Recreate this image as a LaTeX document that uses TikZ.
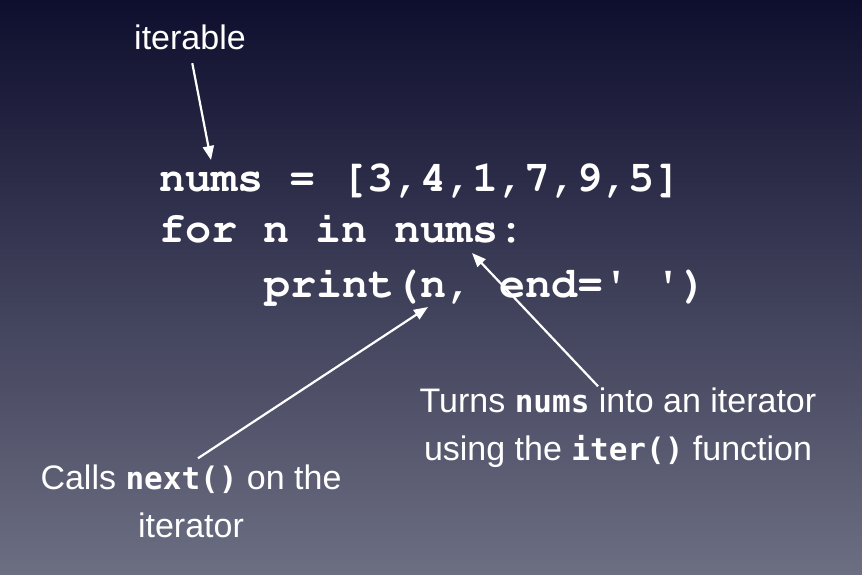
\documentclass[tikz,border=0pt]{standalone}
\usepackage[T1]{fontenc}
\usepackage{fontspec}
\setmainfont{Liberation Sans}
\newfontfamily\inlinefont{DejaVu Sans Mono}
\usetikzlibrary{arrows.meta}

\definecolor{slidetop}{RGB}{14,14,46}
\definecolor{slidemid}{RGB}{62,62,96}
\definecolor{slidebottom}{RGB}{108,110,130}
\newcommand{\codefont}{\fontencoding{T1}\fontfamily{pcr}\fontseries{b}\selectfont}
\newcommand{\inl}[1]{{\inlinefont\bfseries\fontsize{31}{48}\selectfont #1}}

\begin{document}
\begin{tikzpicture}[x=1pt, y=1pt, line width=2.2pt, white,
        pointer/.style={-{Triangle[length=14pt,width=11pt]}},
        codeline/.style={anchor=base west, inner sep=0pt,
                font=\codefont\fontsize{43.5}{52}\selectfont},
        note/.style={anchor=base, align=center, inner sep=0pt,
                font=\fontsize{34}{48}\selectfont}]
                \shade[top color=slidetop, middle color=slidemid, bottom color=slidebottom]
                        (0, 0) rectangle (862, 574);
                \useasboundingbox (0, 0) rectangle (862, 574);
                % the code
                \node[codeline] (line1) at (158, 382) {nums = [3,4,1,7,9,5]};
                \node[codeline] (line2) at (158, 331) {for n in nums:};
                \node[codeline] (line3) at (263, 277) {print(n, end=\textquotesingle\ \textquotesingle)};
                % the notes (base is the last line)
                \node[note] (iterable) at (190, 524) {iterable};
                \node[note] (turns) at (618, 114) {Turns \inl{nums} into an iterator\\using the \inl{iter()} function};
                \node[note] (calls) at (191, 37) {Calls \inl{next()} on the\\iterator};
                % where the arrows point
                \coordinate (numstip) at (211, 414);
                \coordinate (ntip) at (428, 267);
                \coordinate (itertip) at (472, 321);
                \draw[pointer, shorten <=12pt] (iterable.south) -- (numstip);
                \draw[pointer] ([xshift=7pt, yshift=5pt]calls.north) -- (ntip);
                \draw[pointer] ([xshift=-20pt]turns.north) -- (itertip);
        \end{tikzpicture}
\end{document}
